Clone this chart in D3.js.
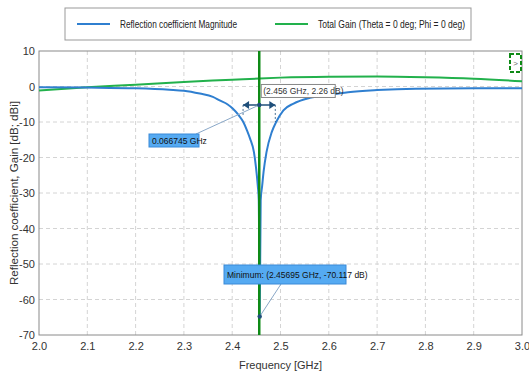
<!DOCTYPE html>
<html>
<head>
<meta charset="utf-8">
<script src="https://cdn.jsdelivr.net/npm/d3@7"></script>
<style>
  body { margin: 0; background: #fff; }
  svg { display: block; font-family: "Liberation Sans Narrow", "Liberation Sans", Arial, sans-serif; }
</style>
</head>
<body>
<div id="chart"></div>
<script>
  // reflection coefficient magnitude [dB]
  const reflFreq = [2.00, 2.10, 2.20, 2.27, 2.30, 2.333, 2.36, 2.374, 2.39, 2.401, 2.413, 2.423, 2.431, 2.437, 2.445, 2.449, 2.453, 2.455, 2.45695, 2.459, 2.462, 2.465, 2.471, 2.482, 2.491, 2.506, 2.527, 2.561, 2.602, 2.64, 2.70, 2.78, 2.90, 3.00];
  const reflDb = [-0.2, -0.3, -0.5, -0.9, -1.2, -2.0, -2.9, -3.9, -5.0, -6.2, -8.0, -10.0, -12.5, -14.7, -18.5, -22.5, -28, -32, -64.8, -32, -28, -24, -18.5, -12.8, -10.0, -6.7, -4.8, -3.2, -2.3, -1.6, -1.0, -0.6, -0.5, -0.5];

  // total gain [dBi]
  const gainFreq = [2.0, 2.1, 2.2, 2.3, 2.4, 2.456, 2.5, 2.6, 2.7, 2.8, 2.9, 3.0];
  const gainDb = [-1.1, -0.2, 0.5, 1.3, 1.9, 2.26, 2.5, 2.75, 2.8, 2.6, 2.2, 1.5];

  const xTicks = [2.0, 2.1, 2.2, 2.3, 2.4, 2.5, 2.6, 2.7, 2.8, 2.9, 3.0];
  const yTicks = [10, 0, -10, -20, -30, -40, -50, -60, -70];
  const seriesNames = ['Reflection coefficient Magnitude', 'Total Gain (Theta = 0 deg; Phi = 0 deg)'];

  const markerFreq = 2.456;
  const markerLabel = '(2.456 GHz, 2.26 dB)';
  const bwLeft = 2.4225, bwRight = 2.4892, bwLevel = -5.2;
  const bwLabel = '0.066745 GHz';
  const minLabel = 'Minimum: (2.45695 GHz, -70.117 dB)';

  const width = 529, height = 376;
  const margin = { top: 51, right: 7, bottom: 41, left: 39 };
  const blue = '#2f7fd0', green = '#22b14c';

  const svg = d3.select('#chart').append('svg')
    .attr('width', width)
    .attr('height', height);

  const x = d3.scaleLinear().domain([2.0, 3.0]).range([margin.left, width - margin.right]);
  const y = d3.scaleLinear().domain([-70, 10]).range([height - margin.bottom, margin.top]);

  // grid
  svg.append('g')
    .selectAll('line')
    .data(xTicks.slice(1, -1))
    .join('line')
    .attr('x1', d => x(d)).attr('x2', d => x(d))
    .attr('y1', y(10)).attr('y2', y(-70))
    .attr('stroke', '#d4d4d4').attr('stroke-dasharray', '4,3');
  svg.append('g')
    .selectAll('line')
    .data(yTicks.slice(1, -1))
    .join('line')
    .attr('x1', x(2.0)).attr('x2', x(3.0))
    .attr('y1', d => y(d)).attr('y2', d => y(d))
    .attr('stroke', '#d4d4d4').attr('stroke-dasharray', '4,3');

  // axes
  const xAxis = svg.append('g')
    .attr('transform', `translate(0,${y(-70)})`)
    .call(d3.axisBottom(x).tickValues(xTicks).tickFormat(d3.format('.1f')).tickSize(0).tickPadding(7));
  const yAxis = svg.append('g')
    .attr('transform', `translate(${x(2.0)},0)`)
    .call(d3.axisLeft(y).tickValues(yTicks).tickFormat(d => d).tickSize(0).tickPadding(4));
  [xAxis, yAxis].forEach(a => {
    a.select('.domain').remove();
    a.selectAll('text').attr('font-size', 11).attr('fill', '#333').style('font-family', '"Liberation Sans Narrow", sans-serif');
  });

  svg.append('rect')
    .attr('x', x(2.0)).attr('y', y(10))
    .attr('width', x(3.0) - x(2.0)).attr('height', y(-70) - y(10))
    .attr('fill', 'none').attr('stroke', '#8a8a8a');

  svg.append('text')
    .attr('x', (x(2.0) + x(3.0)) / 2).attr('y', height - 7)
    .attr('text-anchor', 'middle').attr('font-size', 11).attr('fill', '#333')
    .text('Frequency [GHz]');
  svg.append('text')
    .attr('transform', `translate(18,${(y(10) + y(-70)) / 2}) rotate(-90)`)
    .attr('text-anchor', 'middle').attr('font-size', 11.5).attr('fill', '#333')
    .attr('textLength', 184).attr('lengthAdjust', 'spacingAndGlyphs')
    .text('Reflection coefficient, Gain [dB; dBi]');

  // curves
  const line = d3.line().x(d => x(d[0])).y(d => y(d[1])).curve(d3.curveMonotoneX);
  svg.append('path')
    .datum(gainFreq.map((f, i) => [f, gainDb[i]]))
    .attr('d', line).attr('fill', 'none').attr('stroke', green).attr('stroke-width', 2);
  svg.append('path')
    .datum(reflFreq.map((f, i) => [f, reflDb[i]]))
    .attr('d', line).attr('fill', 'none').attr('stroke', blue).attr('stroke-width', 2);

  // vertical marker
  svg.append('line')
    .attr('x1', x(markerFreq)).attr('x2', x(markerFreq))
    .attr('y1', y(10)).attr('y2', y(-70))
    .attr('stroke', '#0e8a16').attr('stroke-width', 2.5);

  // bandwidth arrows
  const bwY = y(bwLevel);
  const dark = '#1f4f7a';
  const bwGroup = svg.append('g');
  bwGroup.append('line')
    .attr('x1', x(bwLeft)).attr('x2', x(bwLeft)).attr('y1', bwY).attr('y2', y(-8))
    .attr('stroke', dark).attr('stroke-width', 0.8).attr('stroke-dasharray', '2,2');
  bwGroup.append('line')
    .attr('x1', x(bwRight)).attr('x2', x(bwRight)).attr('y1', bwY).attr('y2', y(-10))
    .attr('stroke', dark).attr('stroke-width', 0.8).attr('stroke-dasharray', '2,2');
  bwGroup.append('line')
    .attr('x1', x(bwLeft)).attr('x2', x(bwRight)).attr('y1', bwY).attr('y2', bwY)
    .attr('stroke', dark).attr('stroke-width', 1.5);
  [[bwLeft, 1], [bwRight, -1]].forEach(([f, dir]) => {
    const px = x(f);
    bwGroup.append('path')
      .attr('d', `M${px},${bwY} l${dir * 6},-4 l0,8 z`)
      .attr('fill', dark);
  });

  // leader line + label for bandwidth
  const bwBox = { x: 149, y: 134, w: 50, h: 13 };
  svg.append('line')
    .attr('x1', bwBox.x + bwBox.w - 3).attr('y1', bwBox.y)
    .attr('x2', x(markerFreq)).attr('y2', bwY)
    .attr('stroke', '#8aa8c8').attr('stroke-width', 1);
  svg.append('rect')
    .attr('x', bwBox.x).attr('y', bwBox.y).attr('width', bwBox.w).attr('height', bwBox.h)
    .attr('fill', '#55aaf2').attr('stroke', '#3a8ad8');
  svg.append('text')
    .attr('x', bwBox.x + 3).attr('y', bwBox.y + 9.5)
    .attr('font-size', 8.5).attr('fill', '#111')
    .text(bwLabel);
  svg.append('circle')
    .attr('cx', x(markerFreq)).attr('cy', bwY).attr('r', 2.2).attr('fill', dark);

  // marker value label
  const mIdx = gainFreq.indexOf(markerFreq);
  const mY = y(gainDb[mIdx]);
  svg.append('rect')
    .attr('x', x(markerFreq) + 2).attr('y', mY + 6).attr('width', 74).attr('height', 13)
    .attr('fill', '#fff').attr('stroke', '#888');
  svg.append('text')
    .attr('x', x(markerFreq) + 4).attr('y', mY + 15.5)
    .attr('font-size', 8.5).attr('fill', '#333')
    .text(markerLabel);

  // minimum label
  const minI = reflDb.indexOf(d3.min(reflDb));
  const minX = x(reflFreq[minI]), minY = y(reflDb[minI]);
  const minBox = { x: 224, y: 265, w: 122, h: 19 };
  svg.append('line')
    .attr('x1', minX).attr('y1', minY).attr('x2', 281).attr('y2', minBox.y + minBox.h)
    .attr('stroke', '#8aa8c8').attr('stroke-width', 1);
  svg.append('rect')
    .attr('x', minBox.x).attr('y', minBox.y).attr('width', minBox.w).attr('height', minBox.h)
    .attr('fill', '#55aaf2').attr('stroke', '#3a8ad8');
  svg.append('text')
    .attr('x', minBox.x + 3).attr('y', minBox.y + 12.5)
    .attr('font-size', 8.5).attr('fill', '#111')
    .text(minLabel);
  svg.append('circle')
    .attr('cx', minX).attr('cy', minY).attr('r', 2.2).attr('fill', dark);

  // small dashed box top right
  svg.append('rect')
    .attr('x', 510).attr('y', 54).attr('width', 11).attr('height', 18)
    .attr('fill', '#fff').attr('stroke', '#0e8a16').attr('stroke-width', 2).attr('stroke-dasharray', '4,2');
  svg.append('text')
    .attr('x', 515.5).attr('y', 66).attr('text-anchor', 'middle')
    .attr('font-size', 8).attr('fill', '#666').text('>');

  // legend
  const legend = svg.append('g');
  legend.append('rect')
    .attr('x', 65).attr('y', 8).attr('width', 406).attr('height', 32)
    .attr('fill', '#fff').attr('stroke', '#999');
  const legendItems = [
    { name: seriesNames[0], color: blue, x: 77, w: 117 },
    { name: seriesNames[1], color: green, x: 275, w: 147 }
  ];
  legendItems.forEach(d => {
    legend.append('line')
      .attr('x1', d.x).attr('x2', d.x + 33).attr('y1', 24).attr('y2', 24)
      .attr('stroke', d.color).attr('stroke-width', 2);
    legend.append('text')
      .attr('x', d.x + 43).attr('y', 28)
      .attr('font-size', 11).attr('fill', '#222')
      .attr('textLength', d.w).attr('lengthAdjust', 'spacingAndGlyphs')
      .text(d.name);
  });
</script>
</body>
</html>
